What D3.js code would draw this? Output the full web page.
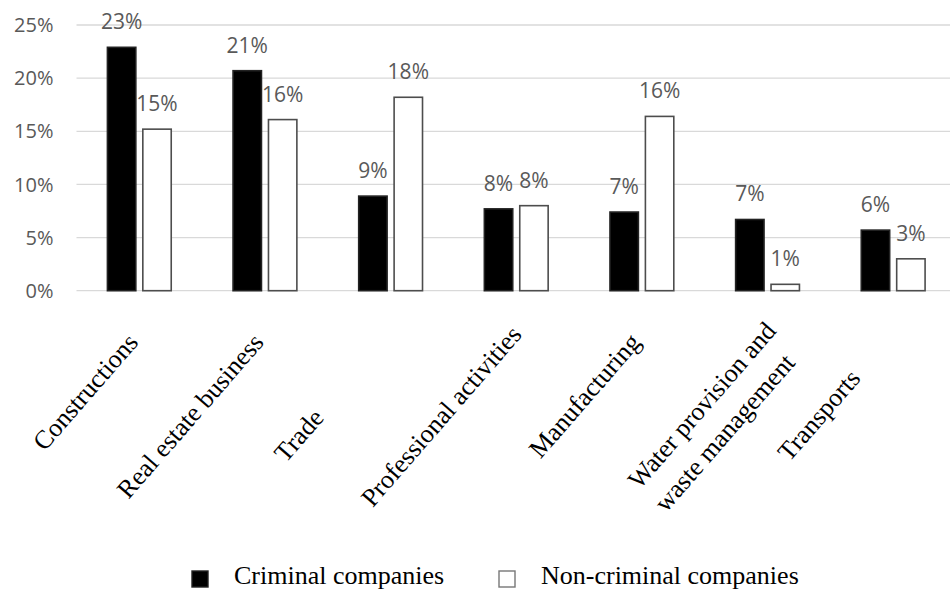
<!DOCTYPE html>
<html>
<head>
<meta charset="utf-8">
<script src="https://cdn.jsdelivr.net/npm/d3@7"></script>
<style>
  html, body { margin: 0; padding: 0; background: #fff; }
  svg { display: block; }
</style>
</head>
<body>
<div id="chart"></div>
<script>
// ── data ──────────────────────────────────────────
const sectors = [
  "Constructions",
  "Real estate business",
  "Trade",
  "Professional activities",
  "Manufacturing",
  "Water provision and\nwaste management",
  "Transports"
];
const seriesNames = ["Criminal companies", "Non-criminal companies"];
const criminal    = [0.229, 0.207, 0.089, 0.077, 0.074, 0.067, 0.057];
const nonCriminal = [0.152, 0.161, 0.182, 0.080, 0.164, 0.006, 0.030];
const yTicks      = [0, 0.05, 0.10, 0.15, 0.20, 0.25];

// ── layout ────────────────────────────────────────
const W = 950, H = 591;
const M = { left: 76.5, right: 956, top: 25, bottom: 290.7 };
const LABEL_ANGLE = -49;
// shift of each category label along its own baseline (px)
const LABEL_NUDGE = [0, 0, -100, 10, 0, 15, -48];

const C = {
  grid: "#d9d9d9",
  tickText: "#595959",
  black: "#000",
  outline: "#4d4d4d"
};

const svg = d3.select("#chart").append("svg")
  .attr("width", W).attr("height", H);

svg.append("rect").attr("width", W).attr("height", H).attr("fill", "#fff");

const x0 = d3.scaleBand()
  .domain(d3.range(sectors.length))
  .range([M.left, M.right])
  .padding(0);

const x1 = d3.scaleBand()
  .domain([0, 1])
  .range([0, x0.bandwidth()])
  .paddingInner(0.198)
  .paddingOuter(0.873);

const y = d3.scaleLinear().domain([0, 0.25]).range([M.bottom, M.top]);

// gridlines
svg.append("g")
  .selectAll("line")
  .data(yTicks)
  .join("line")
  .attr("x1", M.left).attr("x2", W)
  .attr("y1", d => y(d)).attr("y2", d => y(d))
  .attr("stroke", C.grid)
  .attr("stroke-width", 1.3);

// y tick labels
svg.append("g")
  .selectAll("text")
  .data(yTicks)
  .join("text")
  .attr("x", 53.5)
  .attr("y", d => y(d))
  .attr("dy", "0.36em")
  .attr("text-anchor", "end")
  .attr("font-family", "'Open Sans', sans-serif")
  .attr("font-size", 20)
  .attr("fill", C.tickText)
  .text(d => Math.round(d * 100) + "%");

// bars
const rows = sectors.map((s, i) => ({ i, vals: [criminal[i], nonCriminal[i]] }));

const groups = svg.append("g")
  .selectAll("g")
  .data(rows)
  .join("g")
  .attr("transform", d => `translate(${x0(d.i)},0)`);

groups.selectAll("rect")
  .data(d => d.vals.map((v, k) => ({ k, v })))
  .join("rect")
  .attr("x", d => x1(d.k))
  .attr("width", x1.bandwidth())
  .attr("y", d => y(d.v))
  .attr("height", d => y(0) - y(d.v))
  .attr("fill", d => d.k === 0 ? C.black : "#fff")
  .attr("stroke", d => d.k === 0 ? "#222" : C.outline)
  .attr("stroke-width", 1.6);

// value labels
groups.selectAll("text")
  .data(d => d.vals.map((v, k) => ({ k, v })))
  .join("text")
  .attr("x", d => x1(d.k) + x1.bandwidth() / 2)
  .attr("y", d => y(d.v) - 18)
  .attr("text-anchor", "middle")
  .attr("font-family", "'Open Sans', sans-serif")
  .attr("font-size", 21)
  .attr("fill", C.tickText)
  .text(d => Math.round(d.v * 100) + "%");

// category labels (rotated, Times)
const rad = LABEL_ANGLE * Math.PI / 180;
const dirX = Math.cos(rad), dirY = Math.sin(rad);
const lineH = 35;

sectors.forEach((name, i) => {
  const cx = x0(i) + x0.bandwidth() / 2 + LABEL_NUDGE[i] * dirX;
  const cy = 343 + LABEL_NUDGE[i] * dirY;
  const g = svg.append("g")
    .attr("transform", `translate(${cx},${cy}) rotate(${LABEL_ANGLE})`);
  const lines = name.split("\n");
  const first = g.append("text")
    .attr("text-anchor", "end")
    .attr("font-family", "'Liberation Serif', 'Times New Roman', serif")
    .attr("font-size", 26)
    .attr("fill", "#000")
    .text(lines[0]);
  const len = first.node().getComputedTextLength();
  lines.slice(1).forEach((ln, j) => {
    g.append("text")
      .attr("x", -len)
      .attr("y", lineH * (j + 1))
      .attr("text-anchor", "start")
      .attr("font-family", "'Liberation Serif', 'Times New Roman', serif")
      .attr("font-size", 26)
      .attr("fill", "#000")
      .text(ln);
  });
});

// legend
const legendX = [192, 499];
const legend = svg.append("g")
  .selectAll("g")
  .data(seriesNames)
  .join("g")
  .attr("transform", (d, k) => `translate(${legendX[k]},571)`);

legend.append("rect")
  .attr("width", 16).attr("height", 16)
  .attr("fill", (d, k) => k === 0 ? C.black : "#fff")
  .attr("stroke", (d, k) => k === 0 ? "#222" : "#777")
  .attr("stroke-width", 1.4);

legend.append("text")
  .attr("x", 42)
  .attr("y", 13)
  .attr("font-family", "'Liberation Serif', 'Times New Roman', serif")
  .attr("font-size", 26)
  .attr("fill", "#000")
  .text(d => d);
</script>
</body>
</html>
